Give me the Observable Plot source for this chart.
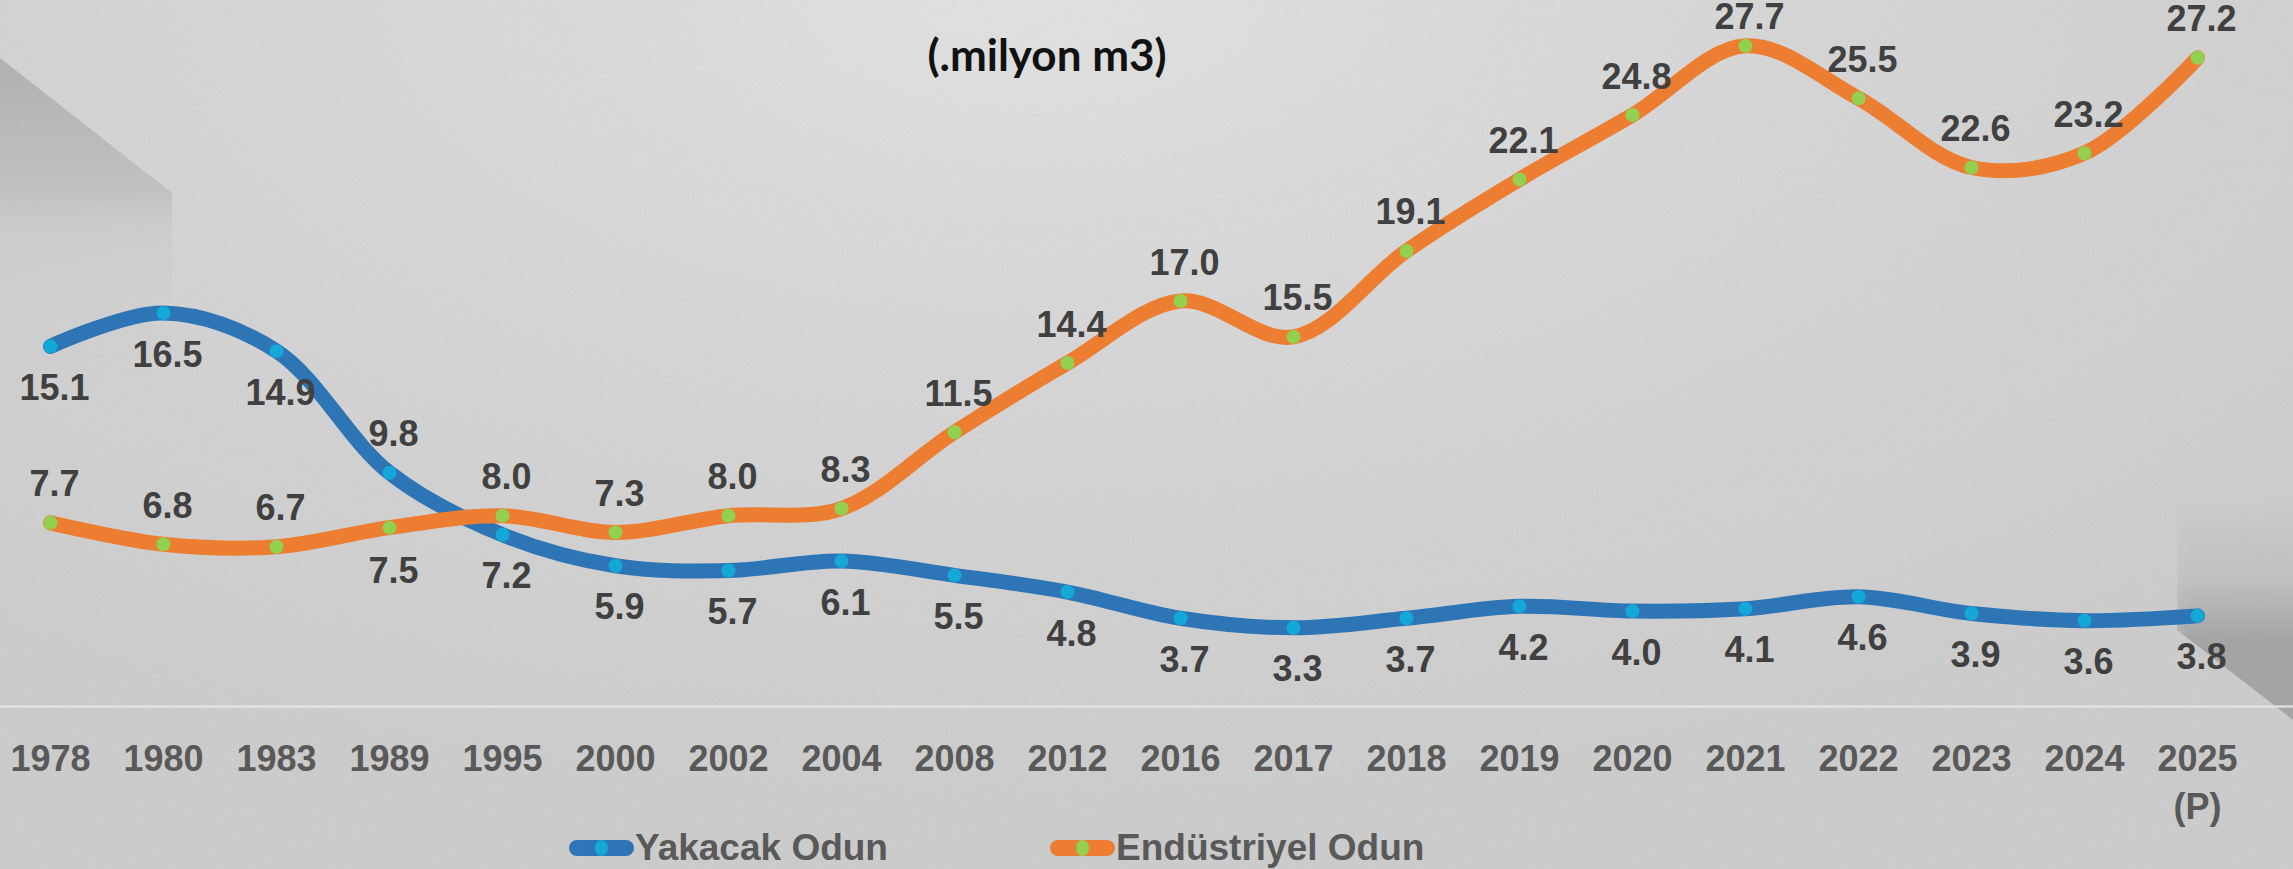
<!DOCTYPE html>
<html>
<head>
<meta charset="utf-8">
<script src="https://cdn.jsdelivr.net/npm/d3@7"></script>
<script src="https://cdn.jsdelivr.net/npm/@observablehq/plot@0.6"></script>
<style>
  html, body { margin: 0; padding: 0; }
  body { width: 2293px; height: 869px; overflow: hidden; position: relative;
    background: radial-gradient(ellipse 75% 95% at 45% 0%, #e2e2e2 0%, #d6d6d6 45%, #cccccc 100%);
    font-family: "Liberation Sans", Arial, sans-serif; }
  #noise { position: absolute; inset: 0; opacity: 0.12;
    background-image: url("data:image/svg+xml;utf8,<svg xmlns='http://www.w3.org/2000/svg' width='300' height='300'><filter id='n'><feTurbulence type='fractalNoise' baseFrequency='0.9 0.35' numOctaves='2' seed='3'/><feColorMatrix type='saturate' values='0'/></filter><rect width='300' height='300' filter='url(%23n)'/></svg>"); }
  #triTL { position: absolute; left: 0; top: 0; width: 175px; height: 420px;
    clip-path: polygon(0 58px, 172px 193px, 172px 420px, 0 420px);
    -webkit-mask-image: linear-gradient(to bottom, black 190px, rgba(0,0,0,0.35) 230px, transparent 380px);
    mask-image: linear-gradient(to bottom, black 190px, rgba(0,0,0,0.35) 230px, transparent 380px);
    background: linear-gradient(to bottom, rgba(160,160,160,0.8) 0px, rgba(180,180,180,0.55) 200px, rgba(200,200,200,0.2) 420px); }
  #triBR { position: absolute; left: 2150px; top: 500px; width: 143px; height: 230px;
    clip-path: polygon(27px 130px, 143px 220px, 143px 0, 27px 0);
    -webkit-mask-image: linear-gradient(to right, transparent 0px, black 40px);
    mask-image: linear-gradient(to right, transparent 0px, black 40px);
    background: linear-gradient(to top, rgba(160,160,160,0.9) 90px, rgba(180,180,180,0.5) 150px, rgba(205,205,205,0) 230px); }
  #chart { position: absolute; left: 0; top: 0; }
  #title { position: absolute; top: 32px; left: 0; width: 2094px; text-align: center; line-height: 44px;
    font-family: Lato, "Open Sans", sans-serif; font-weight: bold; font-size: 44px; color: #111; }
  .leg { position: absolute; top: 826px; height: 44px; display: flex; align-items: center;
    font-weight: bold; font-size: 37px; color: #595959; }
  .sw { width: 65px; height: 16px; border-radius: 8px; position: relative; margin-right: 1px; }
  .sw i { position: absolute; left: 26px; top: 0; width: 13px; height: 16px; border-radius: 50%; }
</style>
</head>
<body>
<div id="noise"></div>
<div id="triTL"></div>
<div id="triBR"></div>
<div id="chart"></div>
<div id="title"></div>
<div class="leg" style="left:569px"><div class="sw" style="background:#2E75B6"><i style="background:#13A8D8"></i></div><span id="l1"></span></div>
<div class="leg" style="left:1050px"><div class="sw" style="background:#ED7D31"><i style="background:#92D050"></i></div><span id="l2"></span></div>
<script>
const years = ["1978","1980","1983","1989","1995","2000","2002","2004","2008","2012","2016","2017","2018","2019","2020","2021","2022","2023","2024","2025"];
const yearLabels = ["1978","1980","1983","1989","1995","2000","2002","2004","2008","2012","2016","2017","2018","2019","2020","2021","2022","2023","2024","2025\n(P)"];
const yakacak = [15.1,16.5,14.9,9.8,7.2,5.9,5.7,6.1,5.5,4.8,3.7,3.3,3.7,4.2,4.0,4.1,4.6,3.9,3.6,3.8];
const endustriyel = [7.7,6.8,6.7,7.5,8.0,7.3,8.0,8.3,11.5,14.4,17.0,15.5,19.1,22.1,24.8,27.7,25.5,22.6,23.2,27.2];
const seriesNames = ["Yakacak Odun", "Endüstriyel Odun"];
const title = "(.milyon m3)";

document.getElementById("l1").textContent = seriesNames[0];
document.getElementById("l2").textContent = seriesNames[1];
document.getElementById("title").textContent = title;

const blue = years.map((y, i) => ({year: y, value: yakacak[i]}));
const orange = years.map((y, i) => ({year: y, value: endustriyel[i]}));
const swapYear = "1989";   // labels placed on the opposite side in the original
const peakYear = "2021";   // top label nudged down to stay inside the chart

const font = "'Liberation Sans', Arial, sans-serif";
const labelStyle = {fontSize: 36, fontWeight: "bold", fill: "#404040", fontFamily: font, dx: 4, text: d => d.value.toFixed(1)};

const chart = Plot.plot({
  width: 2293,
  height: 869,
  marginTop: 0, marginLeft: 0, marginRight: 0, marginBottom: 163,
  style: {background: "transparent", overflow: "visible", fontFamily: font},
  x: {type: "point", domain: years, range: [44.6, 2202], padding: 0},
  y: {domain: [0, 28], range: [706, 706 - 28 * 23.85]},
  marks: [
    Plot.ruleY([0], {stroke: "#e6e6e6", strokeWidth: 2}),
    Plot.axisX({tickSize: 0, tickPadding: 31, tickFormat: d => yearLabels[years.indexOf(d)], fontSize: 36, fontWeight: "bold", fill: "#595959", lineHeight: 1.33, label: null}),
    Plot.axisY({ticks: [], label: null}),
    Plot.line(blue, {x: "year", y: "value", stroke: "#2E75B6", strokeWidth: 15, curve: "catmull-rom", strokeLinecap: "round"}),
    Plot.line(orange, {x: "year", y: "value", stroke: "#ED7D31", strokeWidth: 15, curve: "catmull-rom", strokeLinecap: "round"}),
    Plot.dot(blue, {x: "year", y: "value", r: 7, fill: "#13A8D8"}),
    Plot.dot(orange, {x: "year", y: "value", r: 7, fill: "#92D050"}),
    Plot.text(blue.filter(d => d.year !== swapYear), {x: "year", y: "value", dy: 42, ...labelStyle}),
    Plot.text(blue.filter(d => d.year === swapYear), {x: "year", y: "value", dy: -38, ...labelStyle}),
    Plot.text(orange.filter(d => d.year !== swapYear && d.year !== peakYear), {x: "year", y: "value", dy: -38, ...labelStyle}),
    Plot.text(orange.filter(d => d.year === peakYear), {x: "year", y: "value", dy: -28, ...labelStyle}),
    Plot.text(orange.filter(d => d.year === swapYear), {x: "year", y: "value", dy: 44, ...labelStyle})
  ]
});
document.getElementById("chart").appendChild(chart);
</script>
</body>
</html>
